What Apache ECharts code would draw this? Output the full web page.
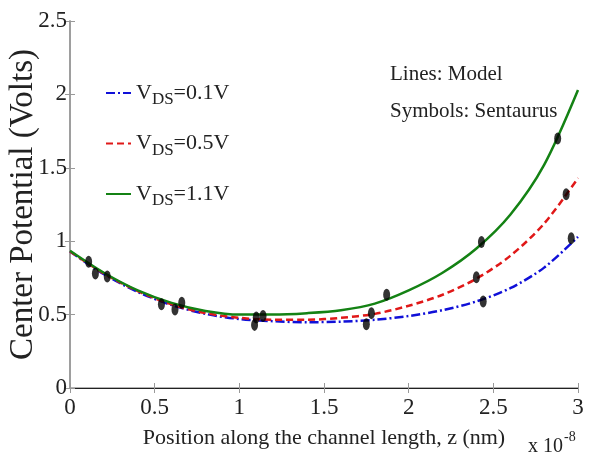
<!DOCTYPE html>
<html>
<head>
<meta charset="utf-8">
<script src="https://cdn.jsdelivr.net/npm/echarts@6/dist/echarts.min.js"></script>
<style>
  html, body { margin: 0; padding: 0; background: #fff; }
  #chart { width: 590px; height: 462px; }
</style>
</head>
<body>
<div id="chart"></div>
<script>
// Center potential along the channel (x 1e-8 m)
const zPos = [0, 0.2, 0.4, 0.6, 0.8, 1.0, 1.2, 1.4, 1.6, 1.8, 2.0, 2.2, 2.4, 2.6, 2.8, 3.0];
const modelVds01 = [0.93, 0.775, 0.655, 0.565, 0.505, 0.47, 0.455, 0.448, 0.452, 0.465, 0.49, 0.53, 0.59, 0.68, 0.82, 1.03];
const modelVds05 = [0.93, 0.78, 0.66, 0.57, 0.51, 0.478, 0.465, 0.465, 0.478, 0.505, 0.56, 0.635, 0.745, 0.9, 1.12, 1.43];
const modelVds11 = [0.935, 0.785, 0.665, 0.58, 0.525, 0.50, 0.50, 0.51, 0.53, 0.575, 0.665, 0.785, 0.95, 1.18, 1.52, 2.03];

// Sentaurus points
const simZ = [0.11, 0.15, 0.22, 0.54, 0.62, 0.66, 1.09, 1.10, 1.14, 1.75, 1.78, 1.87, 2.40, 2.43, 2.44, 2.88, 2.93, 2.96];
const simV = [0.86, 0.78, 0.76, 0.57, 0.535, 0.58, 0.43, 0.48, 0.49, 0.435, 0.51, 0.635, 0.755, 0.995, 0.59, 1.70, 1.32, 1.02];

const legendNames = ["{v|V}{s|DS}{v|=0.1V}", "{v|V}{s|DS}{v|=0.5V}", "{v|V}{s|DS}{v|=1.1V}"];

const serif = "Liberation Serif";
const pair = (xs, ys) => xs.map((x, i) => [x, ys[i]]);

const lineSeries = (name, vals, color, dash) => ({
  name: name,
  type: "line",
  data: pair(zPos, vals),
  smooth: 0.3,
  symbol: "none",
  lineStyle: { color: color, width: 2.5, type: dash },
  itemStyle: { color: color },
  z: 2
});

const option = {
  animation: false,
  grid: { left: 70, right: 12, top: 21, bottom: 74, outerBoundsMode: "none", containLabel: false },
  legend: {
    orient: "vertical",
    left: 100,
    top: 77,
    itemWidth: 25,
    itemHeight: 10,
    itemGap: 24,
    data: legendNames,
    itemStyle: { opacity: 0 },
    textStyle: {
      rich: {
        v: { fontFamily: serif, fontSize: 22, color: "#222" },
        s: { fontFamily: serif, fontSize: 17, color: "#222", padding: [14, 0, 0, 0] }
      }
    }
  },
  xAxis: [
    {
      type: "value",
      min: 0,
      max: 3,
      interval: 0.5,
      name: "Position along the channel length, z (nm)",
      nameLocation: "middle",
      nameGap: 39,
      nameMoveOverlap: false,
      nameTextStyle: { fontFamily: serif, fontSize: 22, color: "#222" },
      axisLine: { show: true, lineStyle: { color: "#999", width: 1.5 } },
      axisTick: { inside: true, length: 5, lineStyle: { color: "#999" } },
      axisLabel: { fontFamily: serif, fontSize: 23, color: "#222", margin: 8 },
      splitLine: { show: false }
    },
    {
      type: "value",
      position: "top",
      min: 0,
      max: 3,
      interval: 0.5,
      axisLine: { show: true, lineStyle: { color: "#222", width: 1.2 } },
      axisTick: { inside: true, length: 5, lineStyle: { color: "#999" } },
      axisLabel: { show: false },
      splitLine: { show: false }
    }
  ],
  yAxis: [
    {
      type: "value",
      min: 0,
      max: 2.5,
      interval: 0.5,
      name: "Center Potential (Volts)",
      nameLocation: "middle",
      nameGap: 30,
      nameMoveOverlap: false,
      nameRotate: 90,
      nameTextStyle: { fontFamily: serif, fontSize: 33, color: "#222" },
      axisLine: { show: true, lineStyle: { color: "#999", width: 1.5 } },
      axisTick: { inside: true, length: 5, lineStyle: { color: "#999" } },
      axisLabel: { fontFamily: serif, fontSize: 23, color: "#222", margin: 3 },
      splitLine: { show: false }
    },
    {
      type: "value",
      position: "right",
      min: 0,
      max: 2.5,
      interval: 0.5,
      axisLine: { show: true, lineStyle: { color: "#999", width: 1.5 } },
      axisTick: { inside: true, length: 5, lineStyle: { color: "#999" } },
      axisLabel: { show: false },
      splitLine: { show: false }
    }
  ],
  graphic: [
    {
      type: "text",
      left: 390,
      top: 64,
      style: { text: "Lines: Model", fontFamily: serif, fontSize: 21, fill: "#222" }
    },
    {
      type: "text",
      left: 390,
      top: 101,
      style: { text: "Symbols: Sentaurus", fontFamily: serif, fontSize: 21, fill: "#222" }
    },
    {
      type: "text",
      left: 528,
      top: 430,
      style: {
        text: "{a|x 10}{b|-8}",
        rich: {
          a: { fontFamily: serif, fontSize: 20, fill: "#222", padding: [10, 0, 0, 0] },
          b: { fontFamily: serif, fontSize: 14, fill: "#222", padding: [0, 0, 10, 1] }
        }
      }
    }
  ],
  series: [
    lineSeries(legendNames[0], modelVds01, "#1010d8", [9, 3, 2, 3]),
    lineSeries(legendNames[1], modelVds05, "#e01818", [7, 4]),
    lineSeries(legendNames[2], modelVds11, "#148214", "solid"),
    {
      name: "Sentaurus",
      type: "scatter",
      data: pair(simZ, simV),
      symbol: "circle",
      symbolSize: [7, 12],
      itemStyle: { color: "#000" },
      z: 5
    }
  ]
};

const chart = echarts.init(document.getElementById("chart"));
chart.setOption(option);
window.addEventListener("resize", () => chart.resize());
</script>
</body>
</html>
